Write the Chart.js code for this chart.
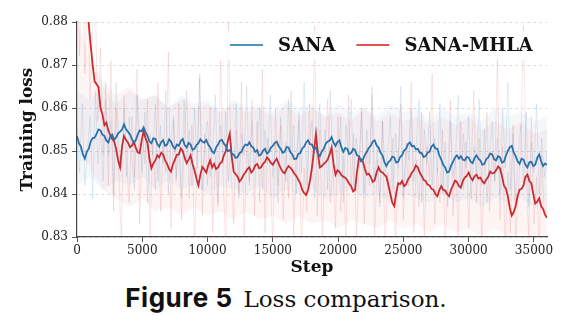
<!DOCTYPE html>
<html>
<head>
<meta charset="utf-8">
<script src="https://cdn.jsdelivr.net/npm/chart.js@4.4.1/dist/chart.umd.min.js"></script>
<style>
html, body { margin: 0; padding: 0; background: #fff; }
#wrap { position: relative; width: 572px; height: 329px; }
#chart { position: absolute; left: 0; top: 0; }
#caption { position: absolute; left: 0; top: 282px; width: 572px; text-align: center; white-space: nowrap; color: #111; }
#caption .fig { font-family: Inter, "Noto Sans", sans-serif; font-weight: 700; font-size: 26px; letter-spacing: 0.5px; }
#caption .txt { font-family: "DejaVu Serif", serif; font-size: 23px; margin-left: 11px; }
</style>
</head>
<body>
<div id="wrap">
  <canvas id="chart" width="572" height="280" style="width:572px;height:280px"></canvas>
  <div id="caption"><span class="fig">Figure 5</span><span class="txt">Loss comparison.</span></div>
</div>
<script>
// Training loss
var seriesNames = ["SANA", "SANA-MHLA"];
var smoothEvery = 150;   // steps between smoothed points
var rawEvery = 200;      // steps between raw points
var bandEvery = 1000;    // steps between band edge points

var sanaSmooth = [
  0.8535,0.8518,0.8510,0.8492,0.8482,0.8498,0.8505,0.8522,0.8530,0.8531,0.8540,0.8550,0.8548,0.8538,0.8535,0.8524,0.8520,0.8533,0.8538,0.8526,
  0.8532,0.8541,0.8545,0.8550,0.8562,0.8551,0.8545,0.8539,0.8528,0.8519,0.8525,0.8538,0.8548,0.8546,0.8555,0.8544,0.8535,0.8522,0.8518,0.8530,
  0.8528,0.8516,0.8510,0.8521,0.8525,0.8512,0.8515,0.8527,0.8522,0.8511,0.8505,0.8515,0.8512,0.8523,0.8528,0.8514,0.8508,0.8519,0.8515,0.8503,
  0.8505,0.8514,0.8518,0.8527,0.8522,0.8519,0.8526,0.8515,0.8508,0.8499,0.8495,0.8508,0.8515,0.8524,0.8526,0.8517,0.8512,0.8500,0.8502,0.8494,
  0.8492,0.8484,0.8486,0.8495,0.8498,0.8509,0.8515,0.8513,0.8520,0.8511,0.8508,0.8498,0.8502,0.8489,0.8492,0.8501,0.8505,0.8494,0.8498,0.8508,
  0.8512,0.8519,0.8522,0.8511,0.8505,0.8496,0.8498,0.8509,0.8508,0.8497,0.8492,0.8481,0.8482,0.8493,0.8495,0.8506,0.8510,0.8520,0.8525,0.8516,
  0.8515,0.8504,0.8508,0.8494,0.8488,0.8499,0.8505,0.8517,0.8522,0.8524,0.8532,0.8519,0.8512,0.8521,0.8525,0.8509,0.8498,0.8507,0.8505,0.8493,
  0.8495,0.8505,0.8502,0.8490,0.8488,0.8476,0.8480,0.8491,0.8498,0.8507,0.8512,0.8522,0.8525,0.8513,0.8508,0.8496,0.8490,0.8474,0.8465,0.8474,
  0.8478,0.8487,0.8485,0.8473,0.8475,0.8486,0.8490,0.8501,0.8505,0.8516,0.8520,0.8511,0.8512,0.8504,0.8505,0.8496,0.8495,0.8486,0.8488,0.8496,
  0.8498,0.8510,0.8515,0.8506,0.8505,0.8490,0.8480,0.8468,0.8462,0.8450,0.8452,0.8466,0.8475,0.8485,0.8490,0.8482,0.8488,0.8480,0.8478,0.8486,
  0.8485,0.8475,0.8472,0.8484,0.8490,0.8482,0.8478,0.8468,0.8470,0.8481,0.8485,0.8494,0.8492,0.8481,0.8478,0.8488,0.8485,0.8473,0.8475,0.8489,
  0.8500,0.8509,0.8512,0.8497,0.8488,0.8476,0.8470,0.8482,0.8480,0.8468,0.8462,0.8474,0.8475,0.8465,0.8468,0.8484,0.8492,0.8476,0.8465,0.8471,
  0.8468
];

var mhlaSmooth = [
  0.9100,0.9050,0.9000,0.8950,0.8900,0.8850,0.8795,0.8745,0.8700,0.8662,0.8655,0.8648,0.8600,0.8585,0.8560,0.8566,0.8548,0.8537,0.8528,0.8522,
  0.8505,0.8478,0.8462,0.8510,0.8535,0.8526,0.8520,0.8509,0.8512,0.8521,0.8508,0.8497,0.8495,0.8524,0.8545,0.8530,0.8518,0.8482,0.8460,0.8471,
  0.8478,0.8490,0.8485,0.8496,0.8492,0.8478,0.8470,0.8458,0.8452,0.8469,0.8480,0.8491,0.8492,0.8506,0.8500,0.8484,0.8472,0.8480,0.8490,0.8470,
  0.8455,0.8436,0.8420,0.8445,0.8463,0.8457,0.8450,0.8466,0.8478,0.8462,0.8470,0.8458,0.8462,0.8471,0.8475,0.8490,0.8500,0.8522,0.8540,0.8488,
  0.8452,0.8446,0.8440,0.8429,0.8435,0.8444,0.8450,0.8458,0.8462,0.8450,0.8455,0.8466,0.8470,0.8460,0.8462,0.8470,0.8475,0.8485,0.8480,0.8472,
  0.8468,0.8476,0.8482,0.8470,0.8460,0.8452,0.8448,0.8458,0.8465,0.8461,0.8455,0.8447,0.8442,0.8433,0.8425,0.8410,0.8402,0.8398,0.8410,0.8432,
  0.8462,0.8500,0.8540,0.8495,0.8462,0.8465,0.8470,0.8474,0.8480,0.8492,0.8508,0.8470,0.8445,0.8455,0.8452,0.8444,0.8440,0.8438,0.8432,0.8424,
  0.8418,0.8406,0.8410,0.8452,0.8485,0.8481,0.8475,0.8458,0.8445,0.8447,0.8440,0.8428,0.8432,0.8450,0.8462,0.8452,0.8450,0.8445,0.8440,0.8421,
  0.8400,0.8380,0.8372,0.8402,0.8425,0.8423,0.8430,0.8418,0.8422,0.8434,0.8440,0.8450,0.8455,0.8466,0.8462,0.8450,0.8442,0.8433,0.8430,0.8422,
  0.8420,0.8412,0.8410,0.8400,0.8395,0.8409,0.8418,0.8410,0.8408,0.8400,0.8395,0.8410,0.8420,0.8431,0.8428,0.8418,0.8415,0.8430,0.8438,0.8442,
  0.8450,0.8438,0.8432,0.8441,0.8445,0.8436,0.8438,0.8429,0.8425,0.8434,0.8440,0.8452,0.8448,0.8449,0.8455,0.8464,0.8460,0.8442,0.8420,0.8412,
  0.8395,0.8368,0.8350,0.8358,0.8372,0.8395,0.8410,0.8412,0.8420,0.8440,0.8445,0.8430,0.8425,0.8400,0.8378,0.8382,0.8390,0.8372,0.8365,0.8352,
  0.8345
];

var sanaRaw = [
  0.856,0.845,0.861,0.842,0.850,0.858,0.839,0.864,0.847,0.855,
  0.843,0.862,0.849,0.857,0.840,0.866,0.851,0.846,0.860,0.844,
  0.858,0.848,0.841,0.863,0.852,0.845,0.859,0.838,0.854,0.849,
  0.861,0.843,0.856,0.847,0.864,0.840,0.853,0.858,0.844,0.850,
  0.839,0.862,0.848,0.855,0.842,0.860,0.846,0.867,0.841,0.853,
  0.857,0.844,0.851,0.863,0.838,0.856,0.847,0.859,0.843,0.852,
  0.845,0.861,0.839,0.854,0.849,0.865,0.842,0.857,0.846,0.851,
  0.860,0.841,0.855,0.847,0.863,0.844,0.852,0.838,0.858,0.849,
  0.843,0.862,0.848,0.856,0.840,0.859,0.845,0.866,0.842,0.853,
  0.857,0.839,0.851,0.861,0.846,0.855,0.841,0.864,0.848,0.852,
  0.844,0.858,0.838,0.856,0.849,0.862,0.842,0.853,0.846,0.859,
  0.840,0.855,0.847,0.863,0.843,0.851,0.837,0.857,0.845,0.850,
  0.858,0.841,0.854,0.846,0.865,0.839,0.852,0.848,0.860,0.843,
  0.851,0.862,0.838,0.855,0.847,0.859,0.842,0.853,0.845,0.861,
  0.840,0.852,0.837,0.857,0.844,0.849,0.863,0.841,0.854,0.846,
  0.858,0.839,0.851,0.845,0.862,0.842,0.855,0.838,0.849,0.857,
  0.843,0.853,0.840,0.860,0.846,0.866,0.841,0.854,0.838,0.850,
  0.856,0.842,0.859,0.837,0.852,0.845,0.861,0.840,0.853,0.844,
  0.850
];

var mhlaRaw = [
  0.895,0.872,0.905,0.868,0.889,0.862,0.878,0.884,0.857,0.874,
  0.849,0.866,0.842,0.871,0.836,0.860,0.845,0.829,0.863,0.848,
  0.838,0.858,0.844,0.869,0.833,0.855,0.847,0.862,0.830,0.852,
  0.841,0.866,0.836,0.853,0.845,0.873,0.832,0.857,0.843,0.861,
  0.834,0.851,0.864,0.839,0.856,0.828,0.847,0.868,0.835,0.854,
  0.842,0.860,0.831,0.849,0.837,0.871,0.844,0.826,0.881,0.846,
  0.833,0.855,0.840,0.866,0.829,0.851,0.843,0.862,0.835,0.857,
  0.838,0.869,0.831,0.853,0.845,0.827,0.860,0.842,0.856,0.834,
  0.852,0.839,0.864,0.830,0.848,0.857,0.825,0.846,0.836,0.861,
  0.843,0.879,0.835,0.855,0.828,0.850,0.862,0.838,0.847,0.832,
  0.858,0.836,0.849,0.827,0.863,0.841,0.854,0.830,0.846,0.860,
  0.833,0.851,0.842,0.865,0.829,0.848,0.838,0.857,0.826,0.845,
  0.839,0.853,0.828,0.847,0.861,0.834,0.850,0.842,0.866,0.831,
  0.848,0.837,0.859,0.829,0.851,0.843,0.868,0.833,0.846,0.838,
  0.855,0.827,0.844,0.862,0.835,0.849,0.830,0.857,0.841,0.852,
  0.832,0.847,0.864,0.838,0.853,0.828,0.845,0.859,0.836,0.850,
  0.843,0.872,0.834,0.851,0.826,0.845,0.831,0.856,0.828,0.840,
  0.852,0.879,0.847,0.829,0.858,0.833,0.844,0.827,0.849,0.835,
  0.838
];

// rough spread of the raw curves (the faint haze behind the lines)
var sanaHigh = [
  0.864,0.862,0.865,0.861,0.864,0.862,0.863,0.860,0.863,0.861,0.862,0.859,0.862,0.860,0.861,0.859,0.862,0.860,0.861,
  0.858,0.861,0.859,0.860,0.858,0.861,0.859,0.860,0.857,0.860,0.858,0.859,0.857,0.860,0.858,0.859,0.857,0.858
];
var sanaLow = [
  0.842,0.844,0.841,0.843,0.842,0.844,0.841,0.843,0.841,0.842,0.840,0.842,0.841,0.840,0.842,0.839,0.841,0.840,0.841,
  0.839,0.840,0.841,0.839,0.840,0.838,0.840,0.839,0.838,0.840,0.838,0.839,0.837,0.839,0.838,0.839,0.837,0.838
];
var mhlaHigh = [
  0.880,0.872,0.866,0.863,0.865,0.862,0.863,0.860,0.862,0.860,0.861,0.859,0.861,0.859,0.860,0.858,0.861,0.858,0.860,
  0.858,0.859,0.857,0.860,0.857,0.859,0.857,0.858,0.856,0.858,0.856,0.858,0.855,0.857,0.855,0.857,0.854,0.855
];
var mhlaLow = [
  0.852,0.846,0.841,0.839,0.837,0.839,0.836,0.837,0.835,0.837,0.835,0.836,0.834,0.836,0.834,0.835,0.833,0.835,0.833,
  0.834,0.832,0.834,0.833,0.832,0.834,0.832,0.833,0.831,0.833,0.831,0.832,0.830,0.832,0.830,0.831,0.830,0.830
];

var yTicks = [0.83, 0.84, 0.85, 0.86, 0.87, 0.88];
var xTicks = [0, 5000, 10000, 15000, 20000, 25000, 30000, 35000];

var blue = "#1f77b4";
var red = "#d62728";

function toPoints(values, every) {
    return values.map(function (v, i) { return { x: i * every, y: v }; });
}

// legend drawn inside the plot, top right, with a faint white frame
var legendBox = {
    id: "legendBox",
    afterDatasetsDraw: function (chart) {
        var ctx = chart.ctx;
        var a = chart.chartArea;
        ctx.save();
        ctx.fillStyle = "rgba(255,255,255,0.8)";
        ctx.fillRect(a.right - 330, a.top + 9, 318, 29);
        ctx.font = "bold 18px 'DejaVu Serif'";
        ctx.textBaseline = "middle";
        var x = a.right - 317;
        var y = a.top + 23;
        var cols = ["rgba(31,119,180,0.8)", "rgba(214,39,40,0.8)"];
        seriesNames.forEach(function (name, i) {
            ctx.strokeStyle = cols[i];
            ctx.lineWidth = 2;
            ctx.beginPath();
            ctx.moveTo(x, y);
            ctx.lineTo(x + 33, y);
            ctx.stroke();
            ctx.fillStyle = "#111";
            ctx.fillText(name, x + 48, y + 1);
            x += 48 + ctx.measureText(name).width + 21;
        });
        ctx.restore();
    }
};

new Chart("chart", {
    type: "line",
    data: {
        datasets: [{
            label: "SANA spread",
            data: toPoints(sanaHigh, bandEvery),
            borderWidth: 0,
            backgroundColor: "rgba(31,119,180,0.05)",
            fill: "+1"
        }, {
            label: "SANA spread low",
            data: toPoints(sanaLow, bandEvery),
            borderWidth: 0
        }, {
            label: "SANA-MHLA spread",
            data: toPoints(mhlaHigh, bandEvery),
            borderWidth: 0,
            backgroundColor: "rgba(214,39,40,0.05)",
            fill: "+1"
        }, {
            label: "SANA-MHLA spread low",
            data: toPoints(mhlaLow, bandEvery),
            borderWidth: 0
        }, {
            label: "SANA raw",
            data: toPoints(sanaRaw, rawEvery),
            borderColor: "rgba(31,119,180,0.13)",
            borderWidth: 1
        }, {
            label: "SANA-MHLA raw",
            data: toPoints(mhlaRaw, rawEvery),
            borderColor: "rgba(214,39,40,0.12)",
            borderWidth: 1
        }, {
            label: seriesNames[0],
            data: toPoints(sanaSmooth, smoothEvery),
            borderColor: blue,
            borderWidth: 1.8
        }, {
            label: seriesNames[1],
            data: toPoints(mhlaSmooth, smoothEvery),
            borderColor: red,
            borderWidth: 1.8
        }]
    },
    options: {
        responsive: false,
        animation: false,
        elements: { point: { radius: 0 }, line: { tension: 0 } },
        layout: { padding: { top: 22, right: 25, left: 0, bottom: 0 } },
        plugins: {
            legend: { display: false },
            tooltip: { enabled: false },
            filler: { propagate: false }
        },
        scales: {
            x: {
                type: "linear",
                min: 0,
                max: 36000,
                afterBuildTicks: function (s) {
                    s.ticks = xTicks.map(function (v) { return { value: v }; });
                },
                afterFit: function (s) { s.height = 43; },
                ticks: {
                    callback: function (v) { return String(v); },
                    font: { family: "DejaVu Serif", size: 12 },
                    color: "#222",
                    padding: 2,
                    maxRotation: 0
                },
                grid: { color: "rgba(0,0,0,0)", tickColor: "#555", tickLength: 5 },
                border: { display: true, color: "#444", width: 1.2 },
                title: {
                    display: true,
                    text: "Step",
                    font: { family: "DejaVu Serif", size: 17, weight: "bold" },
                    color: "#111",
                    padding: { top: 0, bottom: 2 }
                }
            },
            y: {
                min: 0.83,
                max: 0.88,
                afterBuildTicks: function (s) {
                    s.ticks = yTicks.map(function (v) { return { value: v }; });
                },
                afterFit: function (s) { s.width = 77; },
                ticks: {
                    callback: function (v) { return v.toFixed(2); },
                    font: { family: "DejaVu Serif", size: 12 },
                    color: "#222",
                    padding: 4
                },
                grid: { color: "rgba(0,0,0,0.13)", tickColor: "#555", tickLength: 5, tickBorderDash: [] },
                border: { display: true, color: "#444", width: 1.2, dash: [3, 3] },
                title: {
                    display: true,
                    text: "Training loss",
                    font: { family: "DejaVu Serif", size: 17, weight: "bold" },
                    color: "#111",
                    padding: { top: 17, bottom: 0 }
                }
            }
        }
    },
    plugins: [legendBox]
});
</script>
</body>
</html>
